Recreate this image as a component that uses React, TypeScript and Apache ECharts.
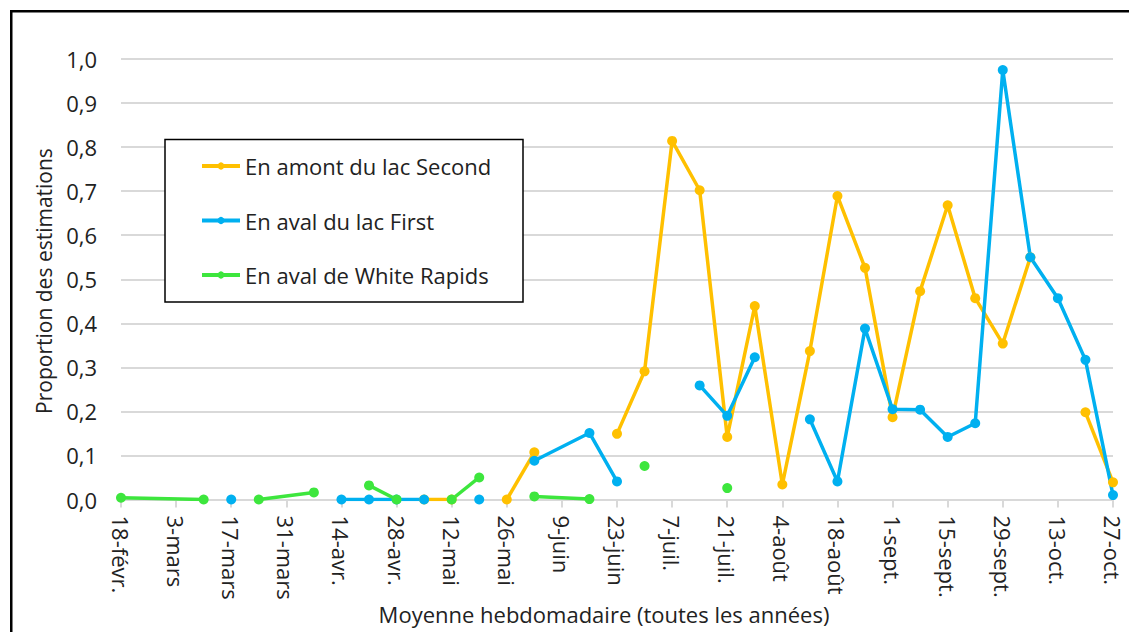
import React, { useEffect, useRef } from "react";
import * as echarts from "echarts";

const weeks = [
  "18-févr.", "25-févr.", "3-mars", "10-mars", "17-mars", "24-mars", "31-mars", "7-avr.",
  "14-avr.", "21-avr.", "28-avr.", "5-mai", "12-mai", "19-mai", "26-mai", "2-juin",
  "9-juin", "16-juin", "23-juin", "30-juin", "7-juil.", "14-juil.", "21-juil.", "28-juil.",
  "4-août", "11-août", "18-août", "25-août", "1-sept.", "8-sept.", "15-sept.", "22-sept.",
  "29-sept.", "6-oct.", "13-oct.", "20-oct.", "27-oct.",
];

const yTicks = { min: 0, max: 1, step: 0.1 };

const nameAmont = "En amont du lac Second";
const nameFirst = "En aval du lac First";
const nameWhite = "En aval de White Rapids";

// Each inner list is one connected line segment: [week, proportion]
const amontSegments: [string, number][][] = [
  [["5-mai", 0], ["12-mai", 0]],
  [["26-mai", 0], ["2-juin", 0.107]],
  [
    ["23-juin", 0.149], ["30-juin", 0.291], ["7-juil.", 0.814], ["14-juil.", 0.702],
    ["21-juil.", 0.142], ["28-juil.", 0.439], ["4-août", 0.034], ["11-août", 0.337],
    ["18-août", 0.689], ["25-août", 0.526], ["1-sept.", 0.187], ["8-sept.", 0.473],
    ["15-sept.", 0.668], ["22-sept.", 0.457], ["29-sept.", 0.354], ["6-oct.", 0.55],
  ],
  [["20-oct.", 0.198], ["27-oct.", 0.039]],
];

const firstSegments: [string, number][][] = [
  [["17-mars", 0]],
  [["14-avr.", 0], ["21-avr.", 0], ["28-avr.", 0], ["5-mai", 0]],
  [["19-mai", 0]],
  [["2-juin", 0.088], ["16-juin", 0.151], ["23-juin", 0.041]],
  [["14-juil.", 0.259], ["21-juil.", 0.19], ["28-juil.", 0.323]],
  [
    ["11-août", 0.182], ["18-août", 0.041], ["25-août", 0.388], ["1-sept.", 0.205],
    ["8-sept.", 0.204], ["15-sept.", 0.142], ["22-sept.", 0.173], ["29-sept.", 0.975],
    ["6-oct.", 0.55], ["13-oct.", 0.457], ["20-oct.", 0.317], ["27-oct.", 0.01],
  ],
];

const whiteSegments: [string, number][][] = [
  [["18-févr.", 0.004], ["10-mars", 0]],
  [["24-mars", 0], ["7-avr.", 0.016]],
  [["21-avr.", 0.032], ["28-avr.", 0]],
  [["12-mai", 0], ["19-mai", 0.05]],
  [["2-juin", 0.007], ["16-juin", 0.001]],
  [["30-juin", 0.076]],
  [["21-juil.", 0.026]],
];

const colors = { amont: "#FFC000", first: "#00B0F0", white: "#3DE63D" };
const FONT = "Open Sans";
const FS = 22;
const TEXT = "#222222";
const GRID = "#d9d9d9";

function makeSeries(name: string, color: string, segments: [string, number][][]) {
  return segments.map((seg) => ({
    type: "line",
    name,
    data: seg,
    symbol: "circle",
    symbolSize: 10,
    showSymbol: true,
    color,
    lineStyle: { color, width: 3.5 },
    itemStyle: { color },
    emphasis: { disabled: true },
  }));
}

export default function App() {
  const ref = useRef<HTMLDivElement>(null);
  useEffect(() => {
    if (!ref.current) return;
    const chart = echarts.init(ref.current, undefined, { renderer: "svg" });
    const option: any = {
      animation: false,
      textStyle: { fontFamily: FONT },
      grid: { left: 121, right: 16, top: 59, bottom: 132.5, containLabel: false },
      legend: {
        data: [nameAmont, nameFirst, nameWhite],
        orient: "vertical",
        left: 200,
        top: 154,
        padding: 0,
        itemWidth: 38,
        itemHeight: 9,
        itemGap: 30.5,
        selectedMode: false,
        lineStyle: { width: 4 },
        textStyle: { fontFamily: FONT, fontSize: FS, color: TEXT, lineHeight: 24 },
        z: 5,
      },
      xAxis: {
        type: "category",
        data: weeks,
        boundaryGap: false,
        axisLine: { lineStyle: { color: GRID, width: 2 } },
        axisTick: { show: true, interval: 1, length: 8, lineStyle: { color: GRID, width: 2 } },
        axisLabel: {
          interval: 1,
          rotate: -90,
          margin: 16,
          fontSize: FS,
          color: TEXT,
          fontFamily: FONT,
        },
        splitLine: { show: false },
      },
      yAxis: {
        type: "value",
        min: yTicks.min,
        max: yTicks.max,
        interval: yTicks.step,
        axisLine: { show: false },
        axisTick: { show: false },
        axisLabel: {
          margin: 24,
          fontSize: FS,
          color: TEXT,
          fontFamily: FONT,
          formatter: (v: number) => v.toFixed(1).replace(".", ","),
        },
        splitLine: { lineStyle: { color: GRID, width: 2 } },
      },
      graphic: [
        {
          type: "rect",
          z: 3,
          shape: { x: 165, y: 139.5, width: 358, height: 162.5 },
          style: { fill: "#ffffff", stroke: "#000000", lineWidth: 1.5 },
        },
        {
          type: "rect",
          z: 10,
          shape: { x: 11.25, y: 11.25, width: 1140, height: 660 },
          style: { fill: "none", stroke: "#000000", lineWidth: 2.5 },
        },
        {
          type: "text",
          z: 10,
          x: 604,
          y: 614,
          style: {
            text: "Moyenne hebdomadaire (toutes les années)",
            fontFamily: FONT,
            fontSize: FS,
            fill: TEXT,
            textAlign: "center",
            textVerticalAlign: "middle",
          },
        },
        {
          type: "text",
          z: 10,
          x: 44,
          y: 281,
          rotation: Math.PI / 2,
          style: {
            text: "Proportion des estimations",
            fontFamily: FONT,
            fontSize: 21,
            fill: TEXT,
            textAlign: "center",
            textVerticalAlign: "middle",
          },
        },
      ],
      series: [
        ...makeSeries(nameAmont, colors.amont, amontSegments),
        ...makeSeries(nameFirst, colors.first, firstSegments),
        ...makeSeries(nameWhite, colors.white, whiteSegments),
      ],
    };
    chart.setOption(option);
    return () => chart.dispose();
  }, []);
  return (
    <div
      ref={ref}
      style={{ position: "fixed", left: 0, top: 0, width: 1129, height: 632, background: "#ffffff" }}
    />
  );
}
